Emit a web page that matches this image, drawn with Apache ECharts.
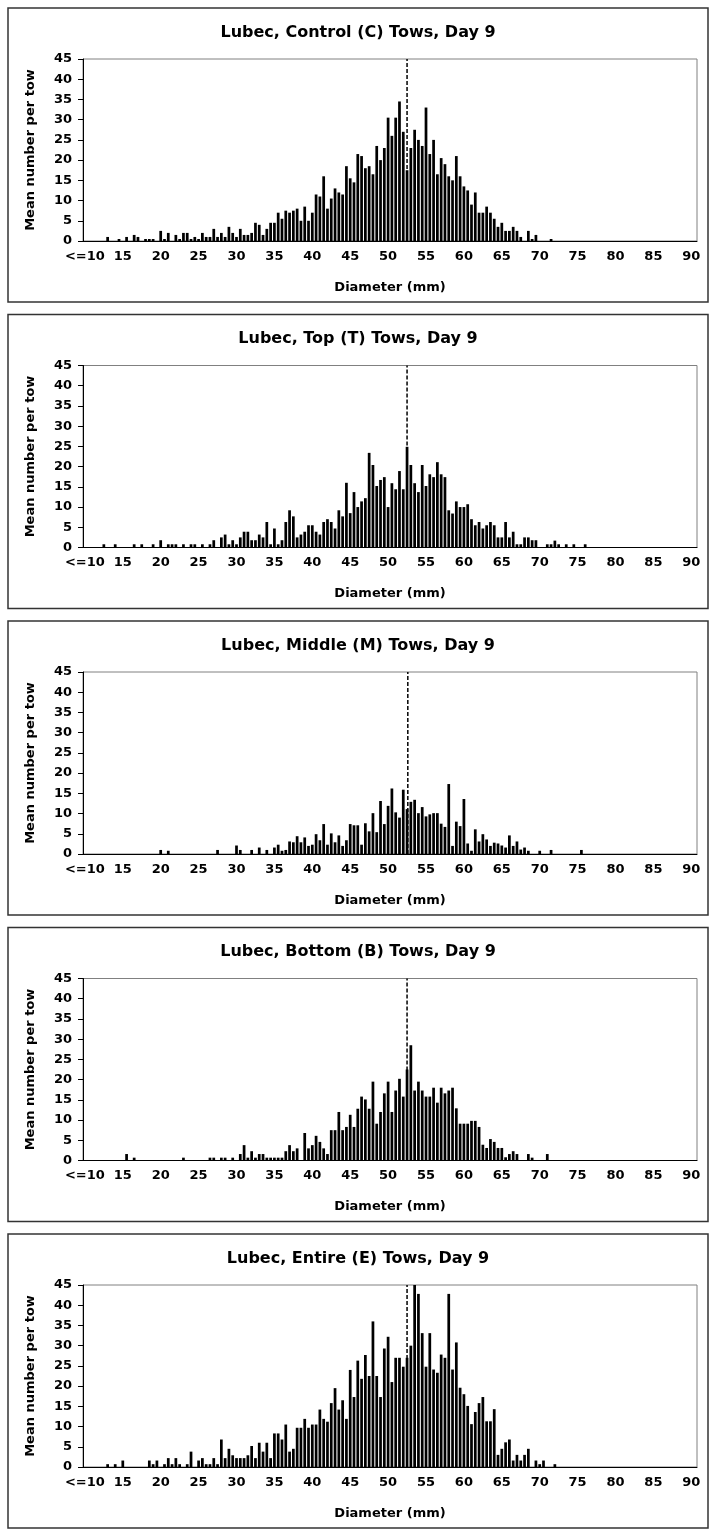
<!DOCTYPE html>
<html>
<head>
<meta charset="utf-8">
<script src="https://cdn.jsdelivr.net/npm/echarts@6/dist/echarts.min.js"></script>
<style>
  html, body { margin: 0; padding: 0; background: #ffffff; }
  #main { width: 711px; height: 1531px; }
</style>
</head>
<body>
<div id="main"></div>
<script>
// size classes are 0.5 mm wide, the first one holds everything <= 10 mm
var bins = [];
for (var b = 10; b <= 90.5; b += 0.5) bins.push(b === 10 ? '<=10' : String(b));

var tickLabels = ['<=10', '15', '20', '25', '30', '35', '40', '45', '50',
                  '55', '60', '65', '70', '75', '80', '85', '90'];

var titles = [
  'Lubec, Control (C) Tows, Day 9',
  'Lubec, Top (T) Tows, Day 9',
  'Lubec, Middle (M) Tows, Day 9',
  'Lubec, Bottom (B) Tows, Day 9',
  'Lubec, Entire (E) Tows, Day 9'
];

// mean diameter (dashed line), mm
var means = [52.5, 52.5, 52.6, 52.5, 52.5];

var control = [
  0, 0, 0, 0, 0, 0, 1.0, 0, 0, 0.5,
  0, 1.0, 0, 1.5, 1.0, 0, 0.5, 0.5, 0.5, 0,
  2.5, 0.5, 2.0, 0, 1.5, 0.5, 2.0, 2.0, 0.5, 1.0,
  0.5, 2.0, 1.0, 1.0, 3.0, 1.0, 2.0, 1.0, 3.5, 2.0,
  1.0, 3.0, 1.5, 1.5, 2.0, 4.5, 4.0, 1.5, 3.0, 4.5,
  4.5, 7.0, 5.5, 7.5, 7.0, 7.5, 8.0, 5.0, 8.5, 5.0,
  7.0, 11.5, 11.0, 16.0, 8.0, 10.5, 13.0, 12.0, 11.5, 18.5,
  15.5, 14.5, 21.5, 21.0, 18.0, 18.5, 16.5, 23.5, 20.0, 23.0,
  30.5, 26.0, 30.5, 34.5, 27.0, 17.5, 23.0, 27.5, 25.0, 23.5,
  33.0, 21.5, 25.0, 16.5, 20.5, 19.0, 16.0, 15.0, 21.0, 16.0,
  13.5, 12.5, 9.0, 12.0, 7.0, 7.0, 8.5, 7.0, 5.5, 3.5,
  4.5, 2.5, 2.5, 3.5, 2.5, 1.0, 0, 2.5, 0.5, 1.5,
  0, 0, 0, 0.5, 0, 0, 0, 0, 0, 0,
  0, 0, 0, 0, 0, 0, 0, 0, 0, 0,
  0, 0, 0, 0, 0, 0, 0, 0, 0, 0,
  0, 0, 0, 0, 0, 0, 0, 0, 0, 0,
  0, 0
];

var top_ = [
  0, 0, 0, 0, 0, 0.8, 0, 0, 0.8, 0,
  0, 0, 0, 0.8, 0, 0.8, 0, 0, 0.8, 0,
  1.8, 0, 0.8, 0.8, 0.8, 0, 0.8, 0, 0.8, 0.8,
  0, 0.8, 0, 0.8, 1.8, 0, 2.5, 3.2, 0.8, 1.8,
  0.8, 2.5, 3.9, 3.9, 1.8, 1.8, 3.2, 2.5, 6.3, 0.8,
  4.7, 0.8, 1.8, 6.3, 9.2, 7.7, 2.5, 3.2, 3.9, 5.5,
  5.5, 3.9, 3.2, 6.3, 7.0, 6.3, 4.7, 9.2, 7.7, 16.0,
  8.5, 13.7, 10.0, 11.4, 12.2, 23.4, 20.4, 15.2, 16.7, 17.4,
  10.0, 15.9, 14.4, 18.9, 14.4, 24.9, 20.4, 15.9, 13.7, 20.4,
  15.2, 18.1, 17.4, 21.1, 18.1, 17.4, 9.2, 8.4, 11.4, 10.0,
  10.0, 10.7, 7.0, 5.5, 6.3, 4.7, 5.5, 6.3, 5.5, 2.5,
  2.5, 6.3, 2.5, 3.9, 0.8, 0.8, 2.5, 2.5, 1.8, 1.8,
  0, 0, 0.8, 0.8, 1.7, 0.8, 0, 0.8, 0, 0.8,
  0, 0, 0.8, 0, 0, 0, 0, 0, 0, 0,
  0, 0, 0, 0, 0, 0, 0, 0, 0, 0,
  0, 0, 0, 0, 0, 0, 0, 0, 0, 0,
  0, 0
];

var middle = [
  0, 0, 0, 0, 0, 0, 0, 0, 0, 0,
  0, 0, 0, 0, 0, 0, 0, 0, 0, 0,
  1.0, 0, 0.8, 0, 0, 0, 0, 0, 0, 0,
  0, 0, 0, 0, 0, 1.0, 0, 0, 0, 0,
  2.1, 1.0, 0, 0, 1.0, 0, 1.6, 0, 1.0, 0,
  1.6, 2.3, 0.8, 1.0, 3.1, 2.9, 4.4, 2.9, 4.1, 2.0,
  2.3, 4.9, 3.4, 7.4, 2.3, 5.1, 2.9, 4.6, 2.0, 3.4,
  7.4, 7.1, 7.1, 2.3, 7.6, 5.6, 10.1, 5.4, 13.1, 7.4,
  11.9, 16.2, 10.3, 9.0, 15.9, 11.1, 12.9, 13.4, 10.1, 11.6,
  9.3, 9.8, 10.1, 10.1, 7.5, 6.7, 17.3, 2.0, 8.0, 6.9,
  13.6, 2.6, 0.8, 6.1, 3.1, 4.9, 3.6, 2.0, 2.8, 2.6,
  2.1, 1.6, 4.6, 2.0, 3.1, 1.1, 1.6, 0.8, 0, 0,
  0.8, 0, 0, 1.0, 0, 0, 0, 0, 0, 0,
  0, 1.0, 0, 0, 0, 0, 0, 0, 0, 0,
  0, 0, 0, 0, 0, 0, 0, 0, 0, 0,
  0, 0, 0, 0, 0, 0, 0, 0, 0, 0,
  0, 0
];

var bottom = [
  0, 0, 0, 0, 0, 0, 0, 0, 0, 0,
  0, 1.6, 0, 0.7, 0, 0, 0, 0, 0, 0,
  0, 0, 0, 0, 0, 0, 0.7, 0, 0, 0,
  0, 0, 0, 0.7, 0.7, 0, 0.7, 0.7, 0, 0.7,
  0, 1.6, 3.8, 0.7, 2.3, 0.7, 1.6, 1.6, 0.7, 0.7,
  0.7, 0.7, 0.7, 2.3, 3.8, 2.3, 3.0, 0, 6.8, 3.0,
  3.8, 6.1, 4.6, 3.0, 1.6, 7.5, 7.5, 12.0, 7.5, 8.3,
  11.3, 8.3, 12.8, 15.8, 15.1, 12.8, 19.5, 9.1, 12.0, 16.6,
  19.5, 12.0, 17.3, 20.2, 15.8, 22.5, 28.5, 17.3, 19.5, 17.3,
  15.8, 15.8, 18.0, 14.3, 18.0, 16.6, 17.3, 18.0, 12.9, 9.1,
  9.1, 9.1, 9.8, 9.8, 8.3, 3.9, 3.1, 5.3, 4.6, 3.1,
  3.1, 0.8, 1.6, 2.3, 1.6, 0, 0, 1.6, 0.7, 0,
  0, 0, 1.6, 0, 0, 0, 0, 0, 0, 0,
  0, 0, 0, 0, 0, 0, 0, 0, 0, 0,
  0, 0, 0, 0, 0, 0, 0, 0, 0, 0,
  0, 0, 0, 0, 0, 0, 0, 0, 0, 0,
  0, 0
];

var entire = [
  0, 0, 0, 0, 0, 0, 0.7, 0, 0.7, 0,
  1.6, 0, 0, 0, 0, 0, 0, 1.6, 0.7, 1.6,
  0, 0.7, 2.2, 0.7, 2.2, 0.7, 0, 0.7, 3.8, 0,
  1.6, 2.2, 0.7, 0.7, 2.2, 0.7, 6.8, 2.2, 4.5, 2.9,
  2.2, 2.2, 2.2, 2.9, 5.2, 2.2, 6.0, 3.8, 6.0, 2.2,
  8.3, 8.3, 6.8, 10.5, 3.8, 4.5, 9.7, 9.7, 11.9, 9.7,
  10.5, 10.5, 14.2, 11.9, 11.2, 15.8, 19.5, 14.2, 16.5, 11.9,
  24.0, 17.3, 26.3, 21.8, 27.7, 22.5, 36.0, 22.5, 17.3, 29.3,
  32.2, 21.0, 27.0, 27.0, 24.8, 27.0, 30.0, 45.0, 42.8, 33.1,
  24.8, 33.1, 24.1, 23.3, 27.8, 27.0, 42.8, 24.1, 30.8, 19.6,
  18.0, 15.1, 10.6, 13.6, 15.8, 17.3, 11.3, 11.3, 14.3, 3.0,
  4.5, 6.1, 6.8, 1.6, 3.0, 1.6, 3.0, 4.5, 0, 1.6,
  0.7, 1.6, 0, 0, 0.7, 0, 0, 0, 0, 0,
  0, 0, 0, 0, 0, 0, 0, 0, 0, 0,
  0, 0, 0, 0, 0, 0, 0, 0, 0, 0,
  0, 0, 0, 0, 0, 0, 0, 0, 0, 0,
  0, 0
];

var panels = [control, top_, middle, bottom, entire];

var chart = echarts.init(document.getElementById('main'));

var font = 'DejaVu Sans';
var step = 306.5;

var title = [], grid = [], xAxis = [], yAxis = [], series = [], graphic = [];

panels.forEach(function (vals, k) {
  var off = k * step;

  graphic.push({
    type: 'rect',
    shape: { x: 8, y: 8 + off, width: 700, height: 294 },
    style: { fill: 'none', stroke: '#333', lineWidth: 1.5 },
    silent: true
  });

  title.push({
    text: titles[k],
    left: 358,
    top: 24.5 + off,
    textAlign: 'center',
    padding: 0,
    textStyle: { fontFamily: font, fontSize: 16, fontWeight: 'bold', color: '#000' }
  });

  grid.push({
    left: 83, top: 59 + off, width: 614, height: 182,
    show: true, borderColor: '#808080', borderWidth: 1, backgroundColor: '#fff'
  });

  xAxis.push({
    type: 'category',
    gridIndex: k,
    data: bins,
    boundaryGap: true,
    name: 'Diameter (mm)',
    nameLocation: 'middle',
    nameGap: 40,
    nameTextStyle: { fontFamily: font, fontSize: 13, fontWeight: 'bold', color: '#000' },
    axisLine: { lineStyle: { color: '#000', width: 1 } },
    axisTick: { interval: 9, length: 5, lineStyle: { color: '#000' } },
    axisLabel: {
      interval: 9,
      margin: 9,
      fontFamily: font, fontSize: 13, fontWeight: 'bold', color: '#000',
      formatter: function (v, i) { return tickLabels[i / 10]; }
    },
    splitLine: { show: false }
  });
  // hidden value axis used to place the mean line between bins
  xAxis.push({
    type: 'value',
    gridIndex: k,
    min: 9.75, max: 90.75,
    show: false
  });

  yAxis.push({
    type: 'value',
    gridIndex: k,
    min: 0, max: 45, interval: 5,
    name: 'Mean number per tow',
    nameLocation: 'middle',
    nameGap: 46,
    nameTextStyle: { fontFamily: font, fontSize: 13, fontWeight: 'bold', color: '#000' },
    axisLine: { show: true, lineStyle: { color: '#000', width: 1 } },
    axisTick: { show: true, length: 5, lineStyle: { color: '#000' } },
    axisLabel: { margin: 11, fontFamily: font, fontSize: 13, fontWeight: 'bold', color: '#000' },
    splitLine: { show: false }
  });

  series.push({
    type: 'bar',
    xAxisIndex: 2 * k,
    yAxisIndex: k,
    data: vals,
    barCategoryGap: '28%',
    itemStyle: { color: '#000' },
    silent: true
  });
  series.push({
    type: 'line',
    xAxisIndex: 2 * k + 1,
    yAxisIndex: k,
    data: [[means[k], 0], [means[k], 45]],
    symbol: 'none',
    lineStyle: { color: '#000', width: 1.5, type: [4, 2] },
    z: 3,
    silent: true
  });
});

chart.setOption({
  backgroundColor: '#ffffff',
  animation: false,
  title: title,
  grid: grid,
  xAxis: xAxis,
  yAxis: yAxis,
  series: series,
  graphic: graphic
});
</script>
</body>
</html>
